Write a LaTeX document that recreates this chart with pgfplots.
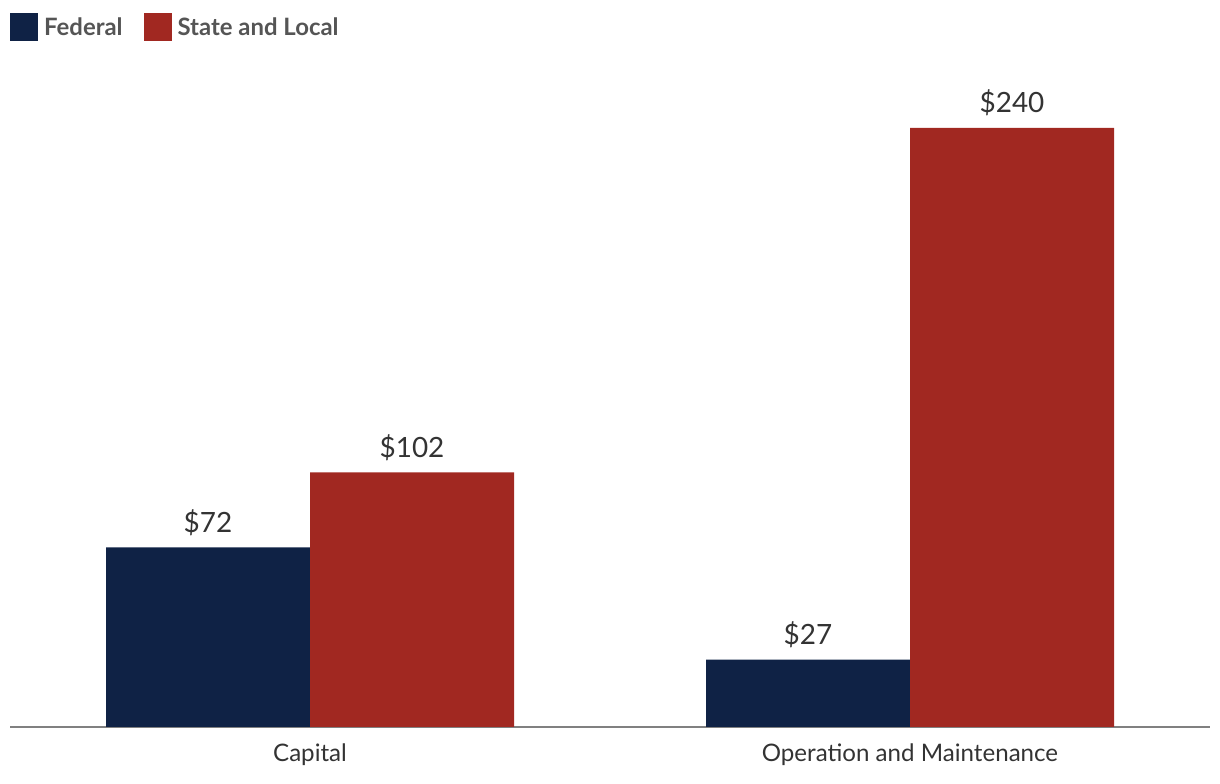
\documentclass[border=0pt]{standalone}
\usepackage{pgfplots}
\pgfplotsset{compat=1.18}
\usepackage{fontspec}
\setmainfont{Lato}
\definecolor{fedblue}{HTML}{0F2245}
\definecolor{slred}{HTML}{A12821}
\definecolor{axgray}{HTML}{808080}
\definecolor{txt}{HTML}{333333}
\definecolor{legtxt}{HTML}{555555}
\begin{document}
\begin{tikzpicture}
\useasboundingbox (0,0) rectangle (1220bp,784bp);
\begin{axis}[
  at={(10bp,57bp)}, anchor=south west,
  scale only axis, width=1200bp, height=667bp,
  xmin=-0.5, xmax=1.5, ymin=0, ymax=267.2,
  ybar=0pt, bar width=204bp,
  axis x line*=bottom, axis y line=none,
  x axis line style={draw=axgray, line width=1.5bp, -},
  xtick={0,1}, xticklabels={Capital,Operation and Maintenance},
  major tick length=0pt,
  xticklabel style={anchor=base, yshift=-35bp, inner sep=0pt, font=\fontsize{24.2}{28}\selectfont, text=txt},
  nodes near coords={\$\pgfmathprintnumber{\pgfplotspointmeta}},
  /pgf/number format/assume math mode=true,
  every node near coord/.append style={anchor=base, yshift=15bp, inner sep=0pt, font=\fontsize{28}{32}\selectfont, text=txt},
  legend columns=2,
  legend style={at={(0,1.0705)}, anchor=north west, draw=none, fill=none, inner sep=0pt,
    font=\fontsize{24}{28}\selectfont\bfseries, text=legtxt,
    nodes={inner sep=0pt, anchor=west},
    /tikz/every even column/.append style={column sep=21bp}},
  legend image code/.code={\fill[#1, draw=none] (0bp,-14bp) rectangle (28bp,14bp);},
  legend cell align=left,
  clip=false,
]
\addplot[fill=fedblue, draw=none] coordinates {(0,72) (1,27)};
\addplot[fill=slred, draw=none] coordinates {(0,102) (1,240)};
\legend{\hspace{6bp}Federal,\hspace{6bp}State and Local}
\end{axis}
\end{tikzpicture}
\end{document}
